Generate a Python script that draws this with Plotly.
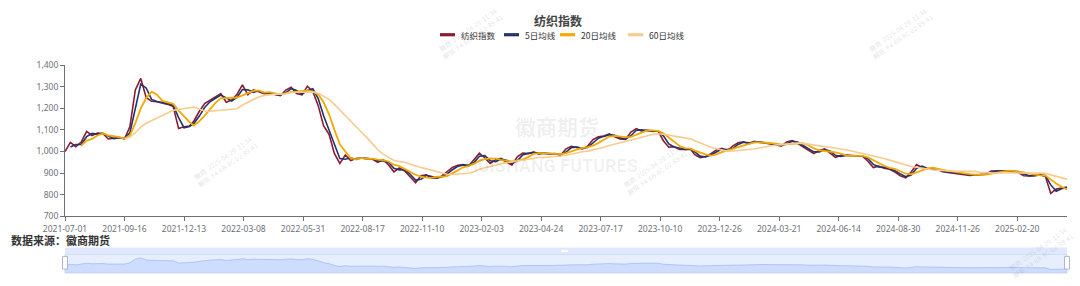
import numpy as np
import pandas as pd
import plotly.graph_objects as go

# ---------------- data ----------------
start_date = '2021-07-01'
end_date = '2025-04-28'

# Chinese exchange holidays falling on weekdays (non-trading days)
holidays = [
    '2021-09-20', '2021-09-21', '2021-10-01', '2021-10-04', '2021-10-05', '2021-10-06', '2021-10-07',
    '2022-01-03', '2022-01-31', '2022-02-01', '2022-02-02', '2022-02-03', '2022-02-04',
    '2022-04-04', '2022-04-05', '2022-05-02', '2022-05-03', '2022-05-04', '2022-06-03',
    '2022-09-12', '2022-10-03', '2022-10-04', '2022-10-05', '2022-10-06', '2022-10-07',
    '2023-01-02', '2023-01-23', '2023-01-24', '2023-01-25', '2023-01-26', '2023-01-27',
    '2023-04-05', '2023-05-01', '2023-05-02', '2023-05-03', '2023-06-22', '2023-06-23',
    '2023-09-29', '2023-10-02', '2023-10-03', '2023-10-04', '2023-10-05', '2023-10-06',
    '2024-01-01', '2024-02-09', '2024-02-12', '2024-02-13', '2024-02-14', '2024-02-15', '2024-02-16',
    '2024-04-04', '2024-04-05', '2024-05-01', '2024-05-02', '2024-05-03', '2024-06-10',
    '2024-09-16', '2024-09-17', '2024-10-01', '2024-10-02', '2024-10-03', '2024-10-04', '2024-10-07',
    '2025-01-01', '2025-01-28', '2025-01-29', '2025-01-30', '2025-01-31', '2025-02-03', '2025-02-04',
    '2025-04-04',
]

tick_labels = ['2021-07-01', '2021-09-16', '2021-12-13', '2022-03-08', '2022-05-31', '2022-08-17',
               '2022-11-10', '2023-02-03', '2023-04-24', '2023-07-17', '2023-10-10', '2023-12-26',
               '2024-03-21', '2024-06-14', '2024-08-30', '2024-11-26', '2025-02-20']

# 纺织指数, read roughly once a week (every ~5 trading days) from the chart
index_values = [
    1000, 1042, 1022, 1044, 1093, 1074, 1085, 1083, 1058, 1060,
    1065, 1058, 1115, 1285, 1338, 1250, 1232, 1230, 1225, 1218,
    1208, 1106, 1114, 1118, 1140, 1185, 1222, 1238, 1254, 1268,
    1228, 1238, 1265, 1308, 1262, 1285, 1276, 1267, 1269, 1262,
    1258, 1284, 1297, 1268, 1262, 1302, 1278, 1212, 1118, 1080,
    990, 945, 984, 958, 968, 971, 965, 965, 950, 962,
    938, 906, 924, 910, 880, 855, 888, 892, 877, 878,
    886, 905, 926, 936, 940, 933, 965, 992, 970, 945,
    962, 968, 950, 938, 975, 993, 990, 998, 988, 992,
    988, 990, 982, 1012, 1024, 1018, 1012, 1025, 1055, 1068,
    1072, 1082, 1068, 1058, 1056, 1090, 1106, 1094, 1099, 1093,
    1095, 1050, 1020, 1022, 1010, 1010, 1012, 985, 972, 977,
    990, 1007, 1015, 1002, 1025, 1040, 1045, 1036, 1047, 1042,
    1039, 1033, 1031, 1025, 1044, 1050, 1038, 1022, 1006, 990,
    1005, 1012, 992, 973, 982, 983, 980, 979, 978, 955,
    926, 932, 923, 918, 905, 888, 878, 905, 940, 925,
    918, 918, 915, 906, 903, 902, 896, 893, 889, 892,
    895, 895, 910, 911, 909, 910, 911, 903, 888, 887,
    890, 892, 885, 806, 826, 830, 836,
]

series_names = ['纺织指数', '5日均线', '20日均线', '60日均线']
ma_days = [5, 20, 60]
colors = ['#8b1c2e', '#22336f', '#f2a900', '#f8cb8e']

# ---------------- derived ----------------
trade_days = pd.bdate_range(start_date, end_date)
trade_days = trade_days[~trade_days.isin(pd.to_datetime(holidays))]
pos = np.linspace(0, len(trade_days) - 1, len(index_values)).round().astype(int)
dates = trade_days[pos]
step = (len(trade_days) - 1) / (len(index_values) - 1)

s = pd.Series(index_values, index=dates, dtype=float)
mas = [s.rolling(max(2, int(round(d / step)))).mean() for d in ma_days]

# ---------------- layout helpers ----------------
W, H = 1080, 286
ML, MR, MT, MB = 65, 13, 65, 8
PW, PH = W - ML - MR, H - MT - MB


def px(x):
    return (x - ML) / PW


def py(y):
    return (H - MB - y) / PH


fig = go.Figure()
all_series = [s] + mas
for name, ser, col in zip(series_names, all_series, colors):
    fig.add_trace(go.Scatter(x=ser.index, y=ser.values, mode='lines', name=name,
                             line=dict(color=col, width=1.6 if name != '20日均线' else 1.8),
                             xaxis='x', yaxis='y', showlegend=False, hoverinfo='skip'))

# slider data shadow
fig.add_trace(go.Scatter(x=s.index, y=s.values, mode='lines', fill='tozeroy',
                         line=dict(color='#8fb0f7', width=0.6),
                         fillcolor='rgba(143,176,247,0.28)',
                         xaxis='x2', yaxis='y2', showlegend=False, hoverinfo='skip'))

rb = [dict(bounds=['sat', 'mon']), dict(values=holidays)]
axis_font = dict(family='Noto Sans, Arial, sans-serif', size=8.5, color='#6e7079')

fig.update_layout(
    width=W, height=H,
    margin=dict(l=ML, r=MR, t=MT, b=MB),
    paper_bgcolor='white', plot_bgcolor='white',
    xaxis=dict(type='date', range=[dates[0], dates[-1]], rangebreaks=rb,
               tickvals=tick_labels, ticktext=tick_labels, tickfont=axis_font,
               ticks='outside', ticklen=4, tickcolor='#6e7079',
               showline=True, linecolor='#6e7079', linewidth=1,
               showgrid=False, zeroline=False, anchor='y'),
    yaxis=dict(domain=[py(220), 1], range=[700, 1400], dtick=100, tickformat=',',
               tickfont=axis_font, ticks='outside', ticklen=4, tickcolor='#6e7079',
               showline=True, linecolor='#6e7079', linewidth=1,
               showgrid=False, zeroline=False, anchor='x'),
    xaxis2=dict(type='date', range=[dates[0], dates[-1]], rangebreaks=rb,
                showticklabels=False, showgrid=False, zeroline=False, showline=False,
                anchor='y2'),
    yaxis2=dict(domain=[0, py(259)], range=[646, 1502], showticklabels=False,
                showgrid=False, zeroline=False, showline=False, anchor='x2'),
)

shapes = []
# slider body background and border
shapes.append(dict(type='rect', xref='paper', yref='paper', x0=0, x1=1, y0=0, y1=py(259),
                   fillcolor='rgba(135,175,255,0.2)', line=dict(color='#d2dbee', width=1), layer='below'))
# move handle bar
shapes.append(dict(type='rect', xref='paper', yref='paper', x0=0, x1=1, y0=py(259), y1=py(252),
                   fillcolor='rgba(210,222,252,0.7)', line=dict(width=0), layer='below'))
shapes.append(dict(type='rect', xref='paper', yref='paper', x0=px(561), x1=px(568), y0=py(256.5), y1=py(254.5),
                   fillcolor='white', line=dict(width=0)))
# handles
for hx in (ML, W - MR):
    shapes.append(dict(type='rect', xref='paper', yref='paper', x0=px(hx - 2.5), x1=px(hx + 2.5),
                       y0=py(274), y1=py(261), fillcolor='white',
                       line=dict(color='#acb8d1', width=1)))

# custom legend
legend_items = [(440, 459), (504, 523), (560, 579), (628, 647)]
ann = []
for (lx, tx), name, col in zip(legend_items, series_names, colors):
    shapes.append(dict(type='line', xref='paper', yref='paper', x0=px(lx), x1=px(lx + 15),
                       y0=py(34), y1=py(34), line=dict(color=col, width=3.2)))
    ann.append(dict(text=name, xref='paper', yref='paper', x=px(tx), y=py(34),
                    xanchor='left', yanchor='middle', showarrow=False,
                    font=dict(family='Noto Sans CJK SC', size=8.5, color='#333333')))

ann.append(dict(text='<b>纺织指数</b>', xref='paper', yref='paper', x=px(558), y=py(19.5),
                xanchor='center', yanchor='middle', showarrow=False,
                font=dict(family='Noto Sans CJK SC', size=12, color='#444444')))
ann.append(dict(text='<b>数据来源：徽商期货</b>', xref='paper', yref='paper', x=px(9), y=py(244.5),
                xanchor='left', yanchor='middle', showarrow=False,
                font=dict(family='Noto Sans CJK SC', size=11, color='#333333')))
# watermarks
ann.append(dict(text='<b>徽商期货</b>', xref='paper', yref='paper', x=px(557), y=py(127),
                xanchor='center', yanchor='middle', showarrow=False,
                font=dict(family='Noto Sans CJK SC', size=21, color='rgba(0,0,0,0.07)')))
ann.append(dict(text='<b>HUISHANG FUTURES</b>', xref='paper', yref='paper', x=px(551), y=py(168),
                xanchor='center', yanchor='middle', showarrow=False,
                font=dict(family='Roboto', size=18, color='rgba(0,0,0,0.06)')))
for wx, wy in [(225, 163), (470, 32), (900, 32), (655, 172), (1040, 256)]:
    ann.append(dict(text='徽商  2025-04-29  11:34<br>期货  F4-6B-8C-02-89-41', xref='paper', yref='paper',
                    x=px(wx), y=py(wy), xanchor='center', yanchor='middle', showarrow=False,
                    textangle=-35, font=dict(family='Noto Sans CJK SC', size=6.5, color='rgba(150,150,150,0.28)')))

fig.update_layout(shapes=shapes, annotations=ann)
fig.write_html('out.html')
